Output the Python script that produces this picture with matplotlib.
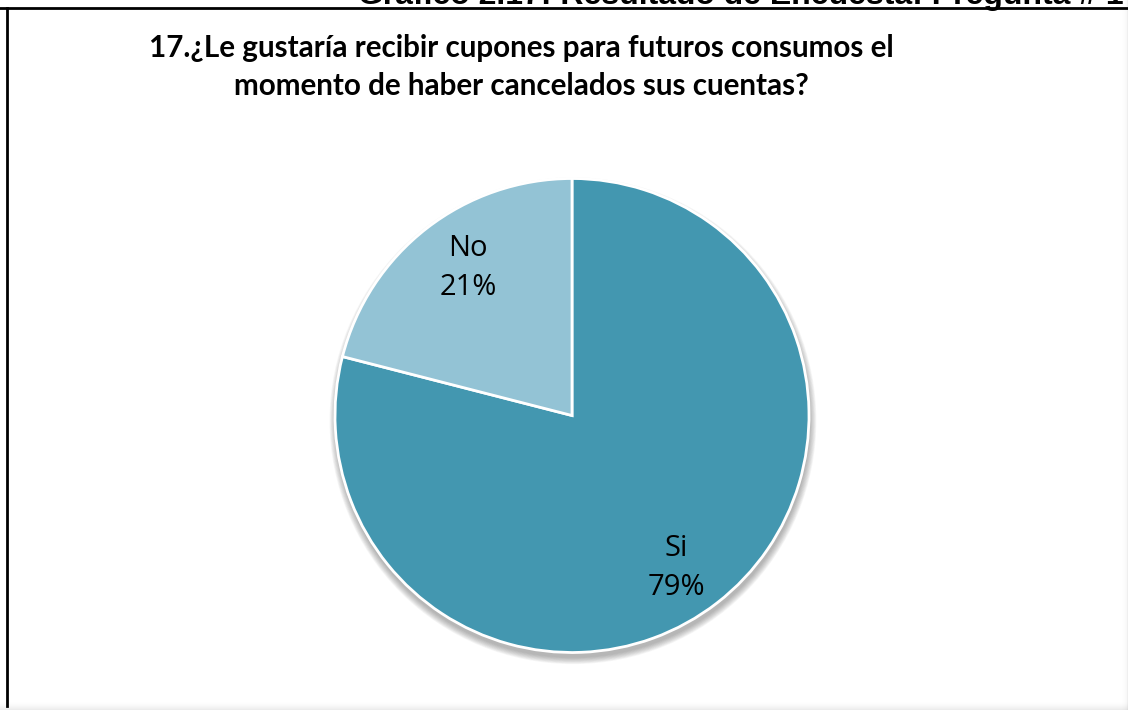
import matplotlib
matplotlib.use("Agg")
import matplotlib.pyplot as plt
from matplotlib.patches import Circle, Rectangle
from matplotlib.lines import Line2D
import numpy as np

categories = ["Si", "No"]
values = [79, 21]
pct_labels = ["79%", "21%"]
colors = ["#4397B0", "#93C3D5"]

title = "17.¿Le gustaría recibir cupones para futuros consumos el\nmomento de haber cancelados sus cuentas?"
header = "Gráfico 2.17: Resultado de Encuesta: Pregunta # 17"

W, H = 1128, 710
fig = plt.figure(figsize=(W / 100, H / 100), dpi=100)
fig.patch.set_facecolor("white")

# light gray shading at bottom and right edges
for i in range(8):
    a = 0.05 * (i + 1) / 8
    fig.patches.append(Rectangle((0, 0), 1, (8 - i) / H, transform=fig.transFigure,
                                 facecolor="#888888", alpha=a * 0.6, edgecolor="none"))
    fig.patches.append(Rectangle((1 - (6 - min(i, 5)) / W, 0), (6 - min(i, 5)) / W, 1,
                                 transform=fig.transFigure, facecolor="#888888",
                                 alpha=a * 0.5, edgecolor="none"))

# frame lines (left and top)
fig.add_artist(Line2D([7 / W, 7 / W], [1 - 8 / H, 4 / H], transform=fig.transFigure,
                      color="black", lw=2.0))
fig.add_artist(Line2D([0, 1], [1 - 8 / H, 1 - 8 / H], transform=fig.transFigure,
                      color="black", lw=2.0))

# clipped header text above the frame
fig.text(358 / W, 1 - 4 / H, header, fontsize=23, fontweight="bold",
         family=["Liberation Sans", "DejaVu Sans"], ha="left", va="baseline", color="black")

# title
fig.text(521 / W, 1 - 67 / H, title, fontsize=21.3, fontweight="bold",
         family=["Lato", "DejaVu Sans"], ha="center", va="center",
         linespacing=1.42, color="black")

# pie axes
cx, cy, r = 572, 415.5, 237
pad = 20
ax = fig.add_axes([(cx - r - pad) / W, (H - cy - r - pad) / H, (2 * r + 2 * pad) / W, (2 * r + 2 * pad) / H])
ax.axis("off")

# soft shadow
for i in range(10):
    rr = 1.0 + 0.003 * i
    ax.add_patch(Circle((0.004, -0.022), rr, facecolor="#555555", alpha=0.05,
                        edgecolor="none", zorder=0))

wedges, _ = ax.pie(values, colors=colors, startangle=90, counterclock=False, radius=1.0,
                   wedgeprops=dict(edgecolor="white", linewidth=2.0))
for w in wedges:
    w.set_zorder(2)

lim = (r + pad) / r
ax.set_xlim(-lim, lim)
ax.set_ylim(-lim, lim)
ax.set_aspect("equal")

for w, cat, pl in zip(wedges, categories, pct_labels):
    mid = np.deg2rad((w.theta1 + w.theta2) / 2 - 3.0)
    d = 0.77
    x, y = d * np.cos(mid), d * np.sin(mid)
    ax.text(x, y - 0.01, f"{cat}\n{pl}", ha="center", va="center", fontsize=21,
            family=["Open Sans", "DejaVu Sans"], linespacing=1.45, color="black", zorder=3)

fig.savefig("out.png", dpi=100)
